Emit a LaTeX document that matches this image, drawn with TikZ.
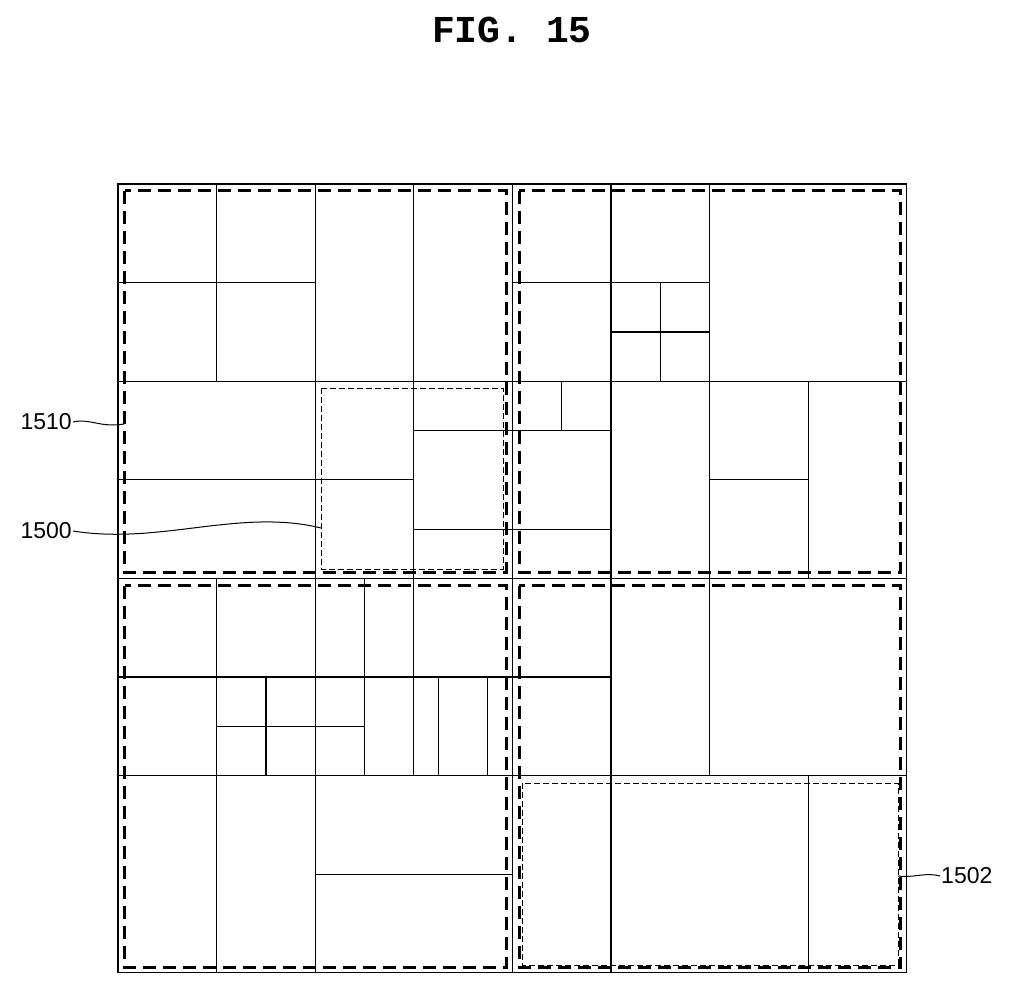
\documentclass[tikz,border=0pt]{standalone}
\usepackage{fontspec}
\setmainfont{Liberation Sans}
\newfontfamily\titlefont{Liberation Mono}
\begin{document}
\begin{tikzpicture}[x=1pt,y=-1pt,
  thin line/.style={line width=1.2pt},
  quad/.style={line width=3pt,dash pattern=on 13pt off 7pt},
  region/.style={line width=0.8pt,dash pattern=on 6pt off 3pt},
  lbl/.style={font=\fontsize{23}{26}\selectfont,inner sep=1pt}]
\useasboundingbox (0,0) rectangle (1024,986);
\node[font=\titlefont\bfseries\fontsize{38}{42}\selectfont] (title) at (512,30) {FIG.\ 15};
\begin{scope}[shift={(118,184)},x=98.6pt,y=-98.6pt,thin line]
\draw (0,0) rectangle (8,8);
\draw (4,0)--(4,8) (0,4)--(8,4);
% top-left
\draw (1,0)--(1,2) (2,0)--(2,4) (3,0)--(3,4) (0,1)--(2,1) (0,2)--(4,2) (0,3)--(3,3)
      (3,2.5)--(4,2.5) (3,3.5)--(4,3.5);
% top-right
\draw (5,0)--(5,4) (6,0)--(6,4) (7,2)--(7,4) (4,1)--(5,1) (4,2)--(8,2)
      (5,1)--(6,1) (5,1.5)--(6,1.5) (5.5,1)--(5.5,2)
      (4.5,2)--(4.5,2.5) (4,2.5)--(5,2.5) (4,3.5)--(5,3.5) (6,3)--(7,3);
% bottom-left
\draw (1,4)--(1,8) (2,4)--(2,8) (2.5,4)--(2.5,6) (3,4)--(3,6) (0,5)--(4,5) (0,6)--(4,6)
      (1.5,5)--(1.5,6) (1,5.5)--(2.5,5.5) (3.25,5)--(3.25,6) (3.75,5)--(3.75,6)
      (2,7)--(4,7);
% bottom-right
\draw (5,4)--(5,8) (6,4)--(6,6) (7,6)--(7,8) (4,5)--(5,5) (4,6)--(8,6);
\end{scope}
% quadrant dashed boxes
\draw[quad] (124.5,190.5) rectangle (506,572);
\draw[quad] (519,190.5) rectangle (900.5,572);
\draw[quad] (124.5,585.5) rectangle (506,967);
\draw[quad] (519,585.5) rectangle (900.5,967);
% region boxes
\draw[region] (321,388) rectangle (503,569);
\coordinate (r0l) at (321,528);
\draw[region] (522,783) rectangle (898,965);
\coordinate (r2r) at (898,876);
\coordinate (q1l) at (124,424);
\node[lbl,anchor=east] (l1510) at (73,422) {1510};
\node[lbl,anchor=east] (l1500) at (73,531) {1500};
\node[lbl,anchor=west] (l1502) at (940,876) {1502};
\draw[line width=1pt] (l1510.east) .. controls (90,418) and (100,428) .. (q1l);
\draw[line width=1pt] (l1500.east) .. controls (160,545) and (240,508) .. (r0l);
\draw[line width=1pt] (r2r) .. controls (915,878) and (925,872) .. (l1502.west);
\end{tikzpicture}
\end{document}
